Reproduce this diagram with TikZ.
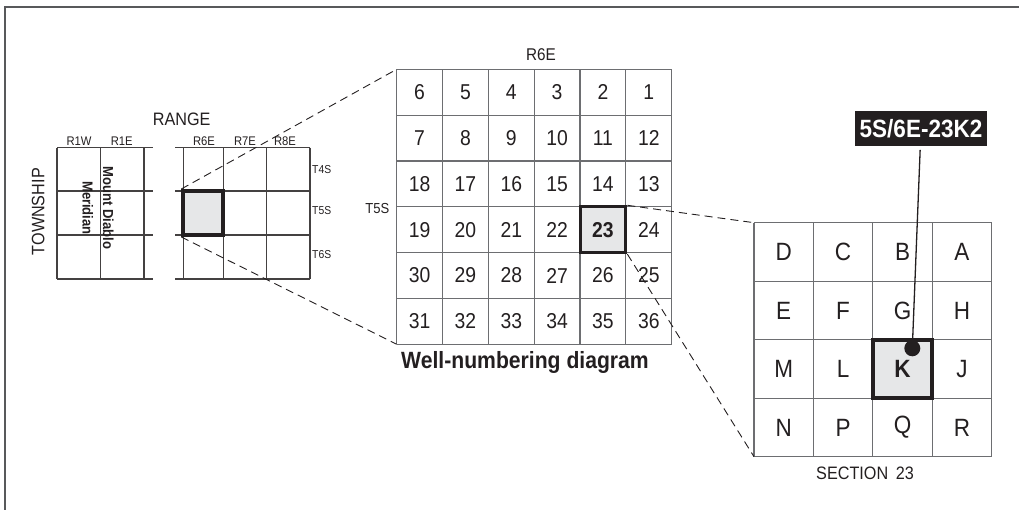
\documentclass[tikz,border=0pt]{standalone}
\usepackage{fontspec}
\setmainfont{Liberation Sans}[FakeStretch=0.9]
\usetikzlibrary{positioning}
\definecolor{WellInk}{HTML}{231F20}
\definecolor{WellGrid}{HTML}{6D6E71}
\definecolor{WellShade}{HTML}{E6E7E8}
\definecolor{WellFrame}{HTML}{58595B}
\tikzset{
    frameline/.style={
        draw=WellFrame,
        line width=1.4pt
    },
    mapline/.style={
        draw=WellInk!85,
        line width=1.1pt
    },
    gridline/.style={
        draw=WellGrid,
        line width=1.1pt
    },
    zoomline/.style={
        draw=WellInk,
        line width=0.9pt,
        dash pattern=on 8pt off 5pt
    },
    thickcell/.style={
        draw=WellInk,
        fill=WellShade,
        line width=#1,
        inner sep=0pt,
        text=WellInk
    },
    thickcell/.default=4pt,
    maplabel/.style={
        text=WellInk,
        inner sep=0pt,
        font=\fontsize{#1}{#1}\selectfont
    },
    maplabel/.default=12.5,
    idbox/.style={
        fill=WellInk,
        text=white,
        font=\fontsize{25}{25}\selectfont\bfseries,
        text height=18pt,
        text depth=0pt,
        inner xsep=5pt,
        inner ysep=8.3pt
    }
}

\begin{document}
\begin{tikzpicture}[x=1pt, y=-1pt]
        \useasboundingbox (0,0) rectangle (1019,510);
        \draw[frameline] (5,510) -- (5,7) -- (1019,7);

        % Township and range
        \node[maplabel=18] (range) at (181.7,119.3) {RANGE};
        \node[maplabel=18, rotate=90] (township) at (38.3,211.7) {TOWNSHIP};
        \node[maplabel] (r1w) at (79,141.7) {R1W};
        \node[maplabel] (r1e) at (121.7,141.7) {R1E};
        \node[maplabel] (r6e) at (204,141.7) {R6E};
        \node[maplabel] (r7e) at (245,141.7) {R7E};
        \node[maplabel] (r8e) at (285,141.7) {R8E};
        \node[maplabel=11.5] (t4s) at (321.7,169.3) {T4S};
        \node[maplabel=11.5] (t5s) at (321.7,211) {T5S};
        \node[maplabel=11.5] (t6s) at (321.7,255) {T6S};
        \foreach \y in {147.7,191,235,279} {
            \draw[mapline] (57,\y) -- (153.3,\y);
            \draw[mapline] (175,\y) -- (310,\y);
        }
        \foreach \x in {57,100.7,144,183.3,223.3,266.7,310}
            \draw[mapline] (\x,147.7) -- (\x,279);
        \node[maplabel=14.5, font=\fontsize{14.5}{20.6}\selectfont\bfseries, rotate=-90, align=center] (meridian) at (98,208) {Mount Diablo\\Meridian};
        \node[thickcell, minimum width=40pt, minimum height=44pt] (t5s6e) at (203.3,213) {};

        % Township T5S R6E, 36 sections
        \node[maplabel=17] (twprange) at (541,55) {R6E};
        \node[maplabel=14.5] (twprow) at (377.3,208.3) {T5S};
        \begin{scope}[shift={(396.7,69.3)}, x=45.83pt, y=-45.83pt]
            \foreach \k in {0,...,6} {
                \draw[gridline] (\k,0) -- (\k,6);
                \draw[gridline] (0,\k) -- (6,\k);
            }
            \coordinate (mid-nw) at (0,0);
            \coordinate (mid-sw) at (0,6);
            \foreach \row [count=\r from 0] in {{6,5,4,3,2,1},{7,8,9,10,11,12},{18,17,16,15,14,13},{19,20,21,22,23,24},{30,29,28,27,26,25},{31,32,33,34,35,36}} {
                \foreach \n [count=\c from 0] in \row {
                    \ifnum\n=23\relax\else
                        \node[maplabel=21.5] (n\n) at (\c+0.5,\r+0.5) {\n};
                    \fi
                }
            }
            \node[thickcell=3pt, minimum size=45.83pt, font=\fontsize{21.5}{21.5}\selectfont\bfseries] (n23) at (4.5,3.5) {23};
        \end{scope}
        \node[maplabel=23.5, font=\fontsize{23.5}{23.5}\selectfont\bfseries, anchor=base] (caption) at (525,368.3) {Well-numbering diagram};

        % Section 23, quarter-quarter tracts
        \begin{scope}[shift={(754,222.7)}, x=59.4pt, y=-58.5pt]
            \foreach \k in {0,...,4} {
                \draw[gridline] (\k,0) -- (\k,4);
                \draw[gridline] (0,\k) -- (4,\k);
            }
            \coordinate (sec-nw) at (0,0);
            \coordinate (sec-sw) at (0,4);
            \foreach \row [count=\r from 0] in {{D,C,B,A},{E,F,G,H},{M,L,K,J},{N,P,Q,R}} {
                \foreach \q [count=\c from 0] in \row {
                    \ifnum\r\c=22\relax\else
                        \node[maplabel=25] (q\q) at (\c+0.5,\r+0.5) {\q};
                    \fi
                }
            }
            \node[thickcell, minimum width=59.4pt, minimum height=58.5pt, font=\fontsize{25}{25}\selectfont\bfseries] (qK) at (2.5,2.5) {K};
            \node[circle, fill=WellInk, minimum size=16pt, inner sep=0pt] (well) at (2.665,2.147) {};
        \end{scope}
        \node[maplabel=18] (section) at (865,473.3) {SECTION\, 23};
        \node[idbox] (wellid) at (921,128.3) {5S/6E-23K2};

        % Connectors
        \draw[zoomline] (t5s6e.north west) -- (mid-nw);
        \draw[zoomline] (t5s6e.south west) -- (mid-sw);
        \draw[zoomline] (n23.north east) -- (sec-nw);
        \draw[zoomline] (n23.south east) -- (sec-sw);
        \draw[draw=WellInk, line width=1.3pt, shorten <=4pt] (wellid) -- (well.center);
    \end{tikzpicture}
\end{document}
